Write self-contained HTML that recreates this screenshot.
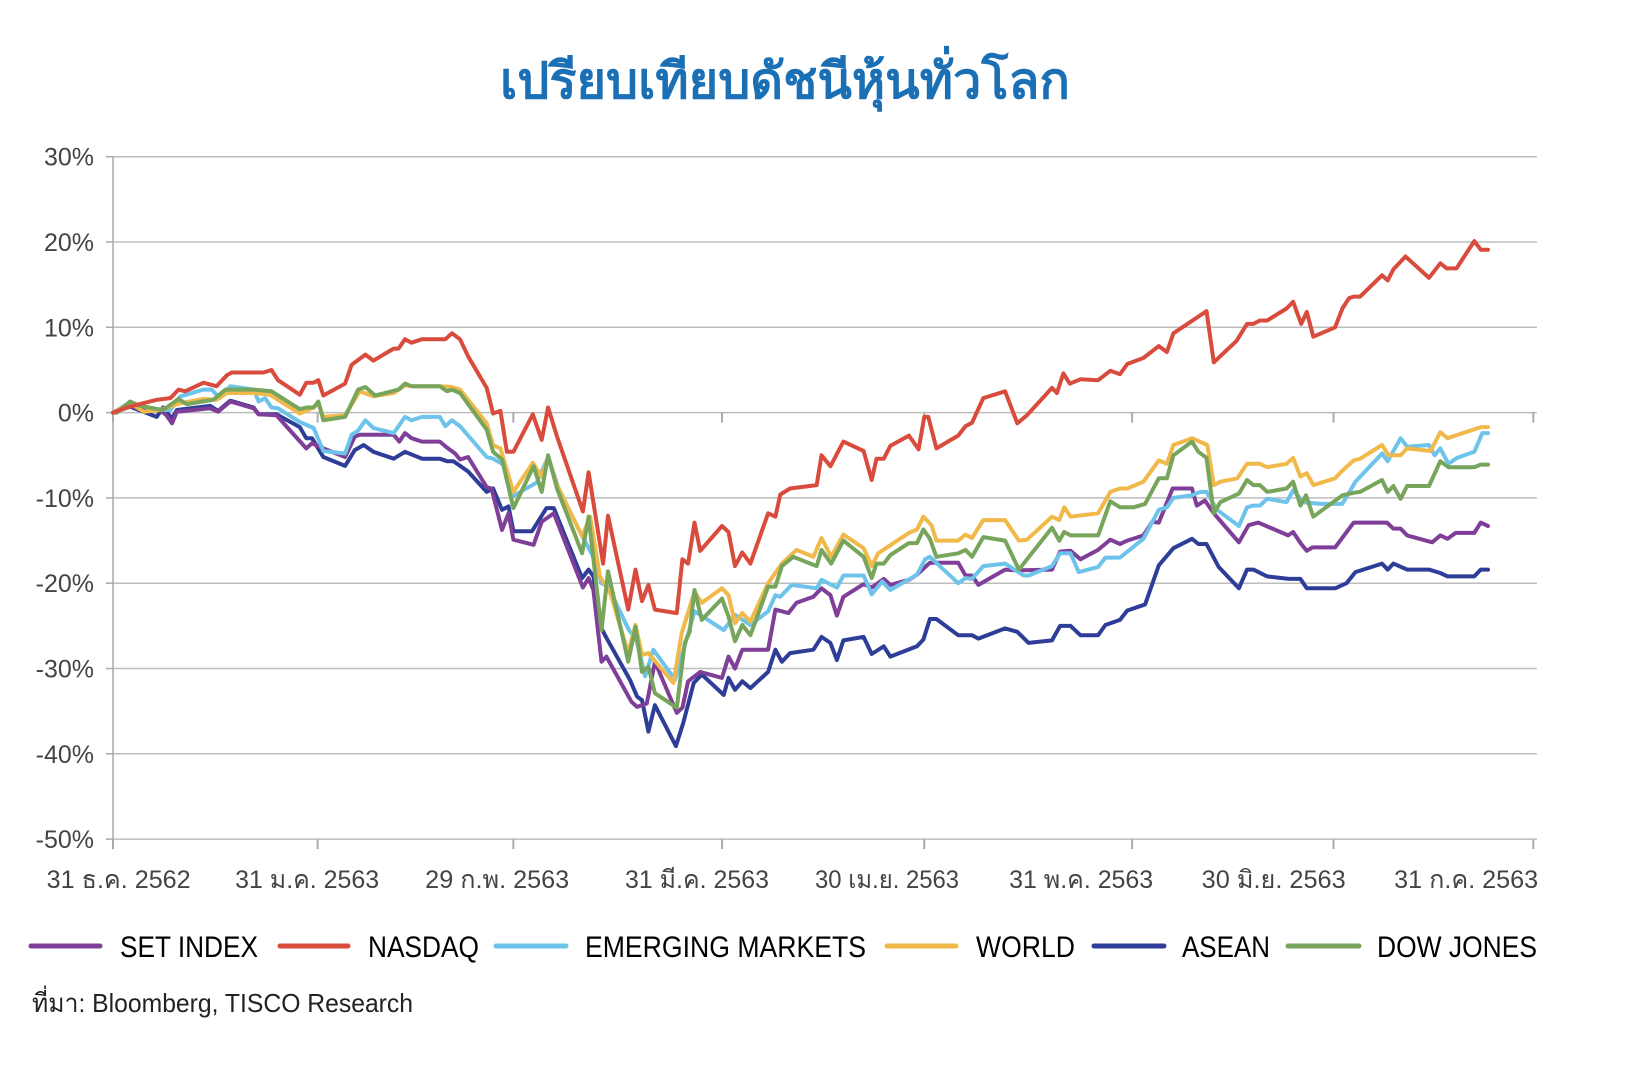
<!DOCTYPE html>
<html><head><meta charset="utf-8">
<style>
html,body{margin:0;padding:0;background:#fff;}
svg{display:block;}
text{font-family:"Liberation Sans","Noto Sans CJK SC","DejaVu Sans",sans-serif;}
</style></head>
<body>
<svg id="chart" width="1642" height="1068" viewBox="0 0 1642 1068" xmlns="http://www.w3.org/2000/svg">
<text x="785" y="98" text-anchor="middle" font-size="50" font-weight="bold" fill="#1b6fb4" textLength="570" lengthAdjust="spacingAndGlyphs">เปรียบเทียบดัชนีหุ้นทั่วโลก</text>
<g id="grid"></g>
<g id="axes"></g>
<g id="series"></g>
<g id="legend"></g>
<text x="32" y="1012" font-size="26" fill="#222" textLength="381" lengthAdjust="spacingAndGlyphs">ที่มา: Bloomberg, TISCO Research</text>
</svg>
<script>
const yTicks=[30,20,10,0,-10,-20,-30,-40,-50];
const yTickLabels=["30%","20%","10%","0%","-10%","-20%","-30%","-40%","-50%"];
const xTickDays=[0,25.3,49.5,75.3,100.3,126,150.9,175.6];
const xLabels=["31 ธ.ค. 2562","31 ม.ค. 2563","29 ก.พ. 2563","31 มี.ค. 2563","30 เม.ย. 2563","31 พ.ค. 2563","30 มิ.ย. 2563","31 ก.ค. 2563"];
const xLabelDays=[0.7,24,47.5,72.2,95.7,119.7,143.5,167.3];

const nasdaqDays=[0,2.1,5.4,7.1,8.1,8.9,11.2,12.8,14.1,14.7,18.6,19.6,20.4,23.1,23.9,24.8,25.4,26,28.7,29.5,31.2,32.2,34.7,35.3,36.1,36.9,38.2,41.1,41.9,42.9,43.9,46.2,47,47.9,48.7,49.5,51.9,53,53.8,54.9,58.1,58.8,60.6,61.2,63.7,64.6,65.4,66.2,67,69.7,70.4,71.1,71.9,72.6,75.3,76.1,76.9,77.8,78.8,81,81.9,82.5,83.7,87,87.6,88.7,90.3,92.8,93.8,94.4,95.3,96.1,98.4,99.6,100.3,100.8,101.8,104.5,105.4,106.2,107.6,110.3,111.8,113,116.1,116.7,117.5,118.3,119.6,121.8,123.3,124.5,125.4,127.4,129.3,130.3,131.1,135.2,136.1,138.9,140.2,141,141.8,142.7,145.1,145.9,146.9,147.6,148.4,151.1,152,152.8,153.4,154.2,156.9,157.6,158.3,159.8,162.7,164.1,164.9,166.1,168.3,169.1,170];
const nasdaqVals=[0,0.7,1.5,1.7,2.7,2.5,3.5,3.1,4.4,4.7,4.7,5,3.8,2.1,3.5,3.5,3.8,2,3.4,5.6,6.8,6.1,7.5,7.5,8.6,8.2,8.6,8.6,9.3,8.6,6.6,2.9,-0.1,0.2,-4.6,-4.6,-0.2,-3.2,0.6,-2.8,-11.6,-7,-17.7,-12.1,-23.1,-18.4,-22.1,-20.2,-23.1,-23.5,-17.2,-17.7,-12.9,-16.2,-13.3,-14,-18,-16.4,-17.7,-11.8,-12.2,-9.6,-8.9,-8.5,-5,-6.3,-3.4,-4.5,-7.9,-5.4,-5.4,-3.9,-2.7,-4.3,-0.5,-0.5,-4.2,-2.7,-1.6,-1.2,1.7,2.5,-1.25,-0.3,2.9,2.3,4.6,3.4,3.9,3.8,4.9,4.5,5.7,6.4,7.8,7.1,9.3,11.9,5.9,8.4,10.4,10.4,10.8,10.8,12.2,13,10.4,11.8,8.9,10,12.2,13.4,13.6,13.6,16.1,15.5,16.8,18.3,15.8,17.5,16.9,16.9,20.1,19.1,19.1];

const worldDays=[0,2.1,3.8,5.8,8.3,11.2,12.8,14.1,17.4,19.4,23.1,24.8,25.4,26,28.7,30.5,32.2,34.7,36.1,36.9,40.4,41.9,42.9,46.2,47,47.9,49.5,51.9,53,53.8,54.9,58,59,60.2,61.5,63.7,64.6,65.4,66.2,69.3,70.3,71.9,72.8,75.3,76.1,76.9,77.8,78.8,81,82.7,84.5,86.6,87.6,88.8,90.3,92.8,93.8,94.6,98.4,99.4,100.2,101.2,101.8,104.5,105.4,106.2,107.6,110.3,112,113,116.1,117,117.6,118.4,121.8,123.3,124.5,125.4,127.4,129.3,130.3,131.1,133.4,135.3,136.1,136.9,139,140.2,141.8,142.7,145.1,145.9,146.8,147.6,148.4,151.1,152,153.4,154.2,156.9,157.7,159.2,160,162.9,164.1,165,169.1,170];
const worldVals=[0,1.1,0.1,0.3,1.1,1.6,1.5,2.3,2.3,2.1,-0.1,0.6,1.1,-0.5,-0.3,2.5,1.9,2.3,3.2,3.1,3.1,3,2.7,-1.25,-3.8,-4.2,-9.3,-5.9,-7.5,-5.2,-8.5,-14.5,-12.2,-19.2,-21.2,-28.2,-24.9,-28.4,-28.2,-31.7,-25.9,-21,-22.3,-20.6,-21.4,-24.7,-23.5,-24.5,-20,-17.7,-16.1,-16.9,-14.7,-16.9,-14.3,-15.9,-18,-16.5,-14.1,-13.7,-12.2,-13.2,-15,-15,-14.3,-14.7,-12.6,-12.6,-15,-14.9,-12.2,-12.6,-11.1,-12.2,-11.8,-9.3,-8.9,-8.9,-8.1,-5.6,-6,-3.8,-3,-3.8,-8.5,-8.1,-7.7,-6,-6,-6.4,-6,-5.3,-7.5,-7.1,-8.5,-7.7,-6.8,-5.6,-5.4,-3.8,-5,-5,-4.2,-4.5,-2.3,-3,-1.7,-1.7];

const dowDays=[0,0.5,2.1,3.3,6.2,8.1,9.1,12.4,13.9,17.4,19.6,23.1,23.9,24.8,25.4,26,28.7,30.3,31.2,32.4,35.3,36.1,36.9,40.4,41.3,41.9,42.9,46.2,47,48.1,49.5,52,53,53.8,54.9,58,58.8,60.4,61.2,63.7,64.6,65.4,66.2,67,69.7,70.7,71.3,71.9,72.8,75.3,76.1,76.9,77.8,78.8,81,81.9,82.7,84.1,87,87.6,88.8,90.3,92.8,93.8,94.4,95.3,96.1,98.4,99.4,100.2,101,101.8,104.5,105.4,106.2,107.6,110.3,112,113,116.1,117,117.6,118.4,121.8,123.3,124.5,126.2,127.6,129.3,130.3,131.1,133.4,134.2,135.2,136.1,136.9,139.2,140.2,141,141.8,142.7,145.1,145.9,146.8,147.5,148.4,152,153.4,154.2,156.9,157.6,158.3,159.2,160,162.7,164.1,165.1,168.3,169.1,170];
const dowVals=[0,0,1.3,0.8,0.3,1.6,1,1.5,2.7,2.7,2.5,0.4,0.6,0.6,1.3,-0.9,-0.5,2.7,3,2,2.7,3.4,3.1,3.1,2.5,2.7,2.3,-2,-4.6,-5.5,-11.2,-6.3,-9.3,-5,-8.9,-16.5,-12.2,-25.5,-18.6,-29.2,-25.1,-30.4,-29.8,-32.9,-34.6,-27,-25.7,-20.8,-24.3,-21.8,-23.9,-26.8,-24.9,-26.1,-20.4,-20.4,-18,-16.9,-18,-16.1,-17.7,-15,-16.9,-19.4,-17.7,-17.7,-16.7,-15.3,-15.3,-13.7,-14.8,-16.9,-16.5,-16.1,-16.9,-14.6,-15,-18.4,-17.2,-13.5,-15,-14,-14.4,-14.4,-10.4,-11.1,-11.1,-10.7,-7.7,-7.7,-5,-3.4,-4.6,-5.3,-11.8,-10.5,-9.5,-7.9,-8.5,-8.5,-9.3,-8.9,-8.1,-10.9,-9.7,-12.2,-9.7,-9.4,-9.3,-7.9,-9.3,-8.6,-10.1,-8.6,-8.6,-5.7,-6.4,-6.4,-6.1,-6.1];

const emDays=[0,2.1,3.8,5.8,7.1,8.3,11.2,12.2,13.2,14.5,17.4,18,18.8,19.6,20.4,23.1,24.8,26,28.7,29.5,30.3,31.2,32.2,34.7,36.1,36.9,38.2,40.4,41.1,41.9,42.9,46.2,47,48.3,49.5,50.7,52.4,53.8,55.1,57.8,59.4,60.4,61.2,63.8,64.7,65.8,66.8,69.5,71.9,75.5,76.9,78.8,81,81.9,82.5,83.9,87,87.6,89.5,90.3,92.8,93.8,95.1,96.1,99.4,100.4,101,104.5,105.4,106.2,107.6,110.3,112.6,113.2,116.1,117.1,118.4,119.4,121.8,122.7,124.5,127.4,129.3,130.3,131.1,133.4,134.4,135.2,136.5,139.2,140.2,141,141.8,142.7,145.1,145.9,147.2,149.3,152,153.6,156.9,157.6,159.2,160,162.7,163.4,164.1,165.1,166.2,168.3,169.3,170];
const emVals=[0,1.2,0.7,0.3,0.3,1.9,2.7,2.7,1.7,3.1,2.7,1.3,1.7,0.6,0.5,-1.1,-1.8,-4.5,-4.8,-2.6,-2.1,-0.9,-1.8,-2.4,-0.5,-0.9,-0.5,-0.5,-1.6,-0.9,-1.6,-5.2,-5.4,-6.1,-9.8,-9.1,-8.2,-5.2,-8.9,-14.1,-16.9,-20,-20.4,-25.5,-26.6,-30.9,-27.8,-31.3,-23.3,-25.5,-23.7,-24.9,-23.3,-21.4,-21.6,-20.2,-20.6,-19.6,-20.5,-19.1,-19.1,-21.3,-19.8,-20.8,-19,-17.2,-16.9,-20,-19.4,-19.5,-18,-17.7,-19.1,-19.1,-18,-16.5,-16.5,-18.7,-18.1,-17,-17,-14.8,-11.4,-11.1,-10,-9.7,-9.3,-9.3,-11.4,-13.3,-11.1,-10.9,-10.9,-10.1,-10.5,-9.1,-10.5,-10.7,-10.7,-8.1,-4.8,-5.7,-3,-4,-3.8,-5,-4.2,-6,-5.3,-4.6,-2.4,-2.4];

const setDays=[0,2.1,5.8,6.6,7.3,7.9,12,13,14.5,17.4,18,20.2,21.9,23.9,24.6,26,28.7,29.9,30.5,34.7,35.4,36.1,36.9,38.2,40.4,41.3,42.3,42.9,43.9,46.2,46.8,48.1,48.9,49.5,52,53,54.5,58.1,58.8,59.4,60.4,61,64.1,64.8,66,67,69.7,70.4,71.1,72.6,75.3,76.1,76.9,77.8,81,81.9,83.5,84.5,86.6,87.6,88.7,89.5,90.3,92.8,93.8,95.3,96.1,98.4,99.4,101,104.5,105.4,106.2,107,110.3,111.8,116.1,117.1,118.4,119.6,121.8,123.3,124.5,125.4,127.4,128.5,129.3,131,133.4,134,135,136.1,139.2,140.4,141.6,145.3,145.9,146.9,147.6,148.3,151.1,153.4,157.5,158.3,159.2,160,163.1,164.1,165,166,168.3,169.1,170];
const setVals=[0,0.7,0.3,-0.3,-1.25,0.1,0.5,0.1,1.3,0.5,-0.2,-0.3,-2.1,-4.2,-3.6,-4.2,-5.2,-2.8,-2.6,-2.6,-3.4,-2.4,-3,-3.4,-3.4,-4.1,-4.8,-5.5,-5.2,-8.75,-8.9,-13.75,-11.8,-14.9,-15.5,-12.8,-11.8,-20.5,-19.4,-20.8,-29.2,-28.6,-33.9,-34.5,-34.1,-29.2,-35.2,-34.6,-31.5,-30.4,-31.1,-28.6,-30,-27.8,-27.8,-23.1,-23.5,-22.3,-21.6,-20.6,-21.4,-23.8,-21.6,-20.1,-20.5,-19.5,-20.2,-19.6,-19,-17.6,-17.6,-19.1,-19.1,-20.2,-18.4,-18.5,-18.4,-16.3,-16.2,-17.2,-16.1,-14.9,-15.4,-15,-14.4,-12.8,-12.9,-8.9,-8.9,-10.9,-10.3,-11.8,-15.2,-13.2,-12.9,-14.4,-14,-15.4,-16.2,-15.8,-15.8,-12.9,-12.9,-13.6,-13.6,-14.4,-15.2,-14.4,-14.8,-14.1,-14.1,-12.9,-13.3];

const aseanDays=[0,2.1,5.4,6.2,7.3,7.9,12,13,14.5,17.4,18,20.2,23.1,23.9,24.6,26,28.7,29.9,31,32.2,34.7,36.1,38.2,40.4,41.3,42.1,43.9,46.2,47,48.1,48.9,49.5,51.8,53.6,54.5,58,58.8,59.4,60.4,61,63.9,64.8,65.4,66.2,67,69.6,70.5,71.8,72.8,75.5,76.1,76.9,77.8,78.8,81,81.9,82.7,83.7,86.6,87.6,88.7,89.5,90.3,92.8,93.8,95.3,96.1,99.4,100.2,101,101.8,104.5,106.2,107,110.3,111.8,113.2,116.1,117.1,118.4,119.6,121.8,122.7,124.5,125.4,127.6,129.3,131.1,133.4,134.2,135.2,136.7,139.2,140.2,141,142.7,145.4,146.8,147.6,151.1,152.5,153.6,156.9,157.6,158.3,160,162.7,164.1,165,168.3,169.1,170];
const aseanVals=[0,0.7,-0.5,0.6,-0.7,0.3,0.8,0.2,1.4,0.6,-0.2,-0.2,-1.7,-3,-3,-5.2,-6.25,-4.4,-3.8,-4.6,-5.4,-4.6,-5.4,-5.4,-5.7,-5.7,-6.9,-9.3,-8.9,-11.4,-11,-13.9,-13.9,-11.2,-11.2,-19.4,-18.4,-19.2,-25.3,-26.4,-31.3,-33.3,-33.7,-37.4,-34.3,-39.1,-36.4,-31.7,-30.7,-33.1,-31.1,-32.5,-31.5,-32.3,-30.4,-27.8,-29.2,-28.2,-27.8,-26.3,-27,-29,-26.7,-26.3,-28.3,-27.4,-28.6,-27.4,-26.6,-24.2,-24.2,-26.1,-26.1,-26.5,-25.3,-25.7,-27,-26.7,-25,-25,-26.1,-26.1,-24.9,-24.3,-23.2,-22.5,-17.9,-15.9,-14.8,-15.4,-15.4,-18.1,-20.6,-18.4,-18.4,-19.2,-19.5,-19.5,-20.6,-20.6,-20,-18.7,-17.7,-18.4,-17.7,-18.4,-18.4,-18.8,-19.2,-19.2,-18.4,-18.4];

const NS='http://www.w3.org/2000/svg';
const X0=113,X1=1488,Y0=412.6,PER10=85.3;
function xs(d){return X0+d*(X1-X0)/170;}
function ys(v){return Y0-v*PER10/10;}
function mk(tag,attrs,parent){const e=document.createElementNS(NS,tag);for(const k in attrs)e.setAttribute(k,attrs[k]);parent.appendChild(e);return e;}

const grid=document.getElementById('grid');
const axes=document.getElementById('axes');
const series=document.getElementById('series');
const legend=document.getElementById('legend');
const AX_R=1537;

yTicks.forEach((t,i)=>{
  const y=ys(t);
  const gl=mk('line',{x1:X0,x2:AX_R,y1:y,y2:y,stroke:'#bdbdbd','stroke-width':1.5},grid);
  
  
  const tk=mk('line',{x1:X0-7,x2:X0,y1:y,y2:y,stroke:'#aaa','stroke-width':1.5},axes);
  
  
  const tx=mk('text',{x:94,y:y+9,'text-anchor':'end','font-size':25,fill:'#444'},axes);
  tx.textContent=yTickLabels[i];
  
  
});
const ya=mk('line',{x1:X0,x2:X0,y1:ys(30),y2:ys(-50)+6,stroke:'#aaa','stroke-width':1.5},axes);


xTickDays.forEach(d=>{
  const x=Math.min(xs(d),AX_R);
  [ys(0),ys(-50)].forEach(y=>{
    const t=mk('line',{x1:x,x2:x,y1:y,y2:y+10,stroke:'#aaa','stroke-width':2},axes);
    
    
  });
});
xLabels.forEach((l,i)=>{
  const t=mk('text',{x:xs(xLabelDays[i]),y:888,'text-anchor':'middle','font-size':25,fill:'#444',textLength:144,lengthAdjust:'spacingAndGlyphs'},axes);
  t.textContent=l;
  
  
});

const seriesList=[
 {name:'SET INDEX',key:'set-index',days:setDays,vals:setVals,color:'#7f3f98'},
 {name:'NASDAQ',key:'nasdaq',days:nasdaqDays,vals:nasdaqVals,color:'#d94b3c'},
 {name:'EMERGING MARKETS',key:'emerging-markets',days:emDays,vals:emVals,color:'#6ec3ea'},
 {name:'WORLD',key:'world',days:worldDays,vals:worldVals,color:'#f0b94a'},
 {name:'ASEAN',key:'asean',days:aseanDays,vals:aseanVals,color:'#2e3d97'},
 {name:'DOW JONES',key:'dow-jones',days:dowDays,vals:dowVals,color:'#76a55b'}
];
const drawOrder=[4,0,2,3,5,1];
drawOrder.forEach(i=>{
  const s=seriesList[i];
  const d=s.days.map((dd,j)=>(j?'L':'M')+xs(dd).toFixed(1)+','+ys(s.vals[j]).toFixed(1)).join('');
  const p=mk('path',{d:d,fill:'none',stroke:s.color,'stroke-width':4,'stroke-linejoin':'round','stroke-linecap':'round'},series);
  
  
});
const legX=[[31,100,120,138],[280,348,368,111],[496,566,585,281],[887,956,976,99],[1094,1164,1182,88],[1288,1359,1377,160]];
seriesList.forEach((s,i)=>{
  const g=mk('g',{},legend);
  
  
  mk('line',{x1:legX[i][0],x2:legX[i][1],y1:946,y2:946,stroke:s.color,'stroke-width':5,'stroke-linecap':'round'},g);
  const t=mk('text',{x:legX[i][2],y:957,'font-size':30,fill:'#000',textLength:legX[i][3],lengthAdjust:'spacingAndGlyphs'},g);
  t.textContent=s.name;
});
</script>
</body></html>
